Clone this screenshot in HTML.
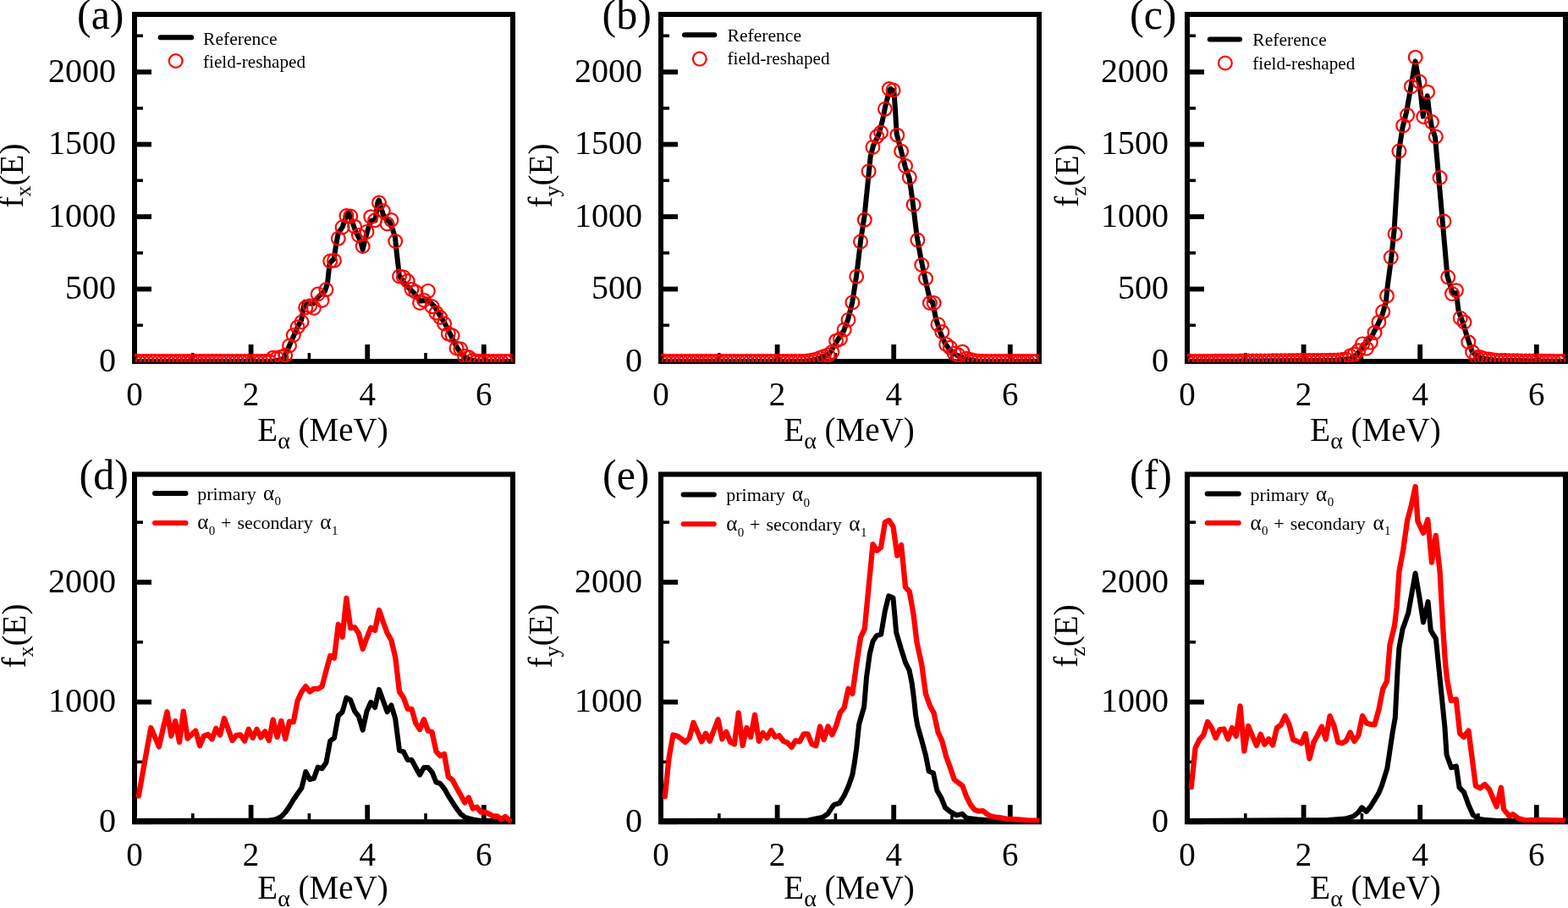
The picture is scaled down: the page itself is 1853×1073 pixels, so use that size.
<!DOCTYPE html><html><head><meta charset="utf-8"><title>Figure</title><style>html,body{margin:0;padding:0;background:#fff;}svg{display:block;}text{font-family:'Liberation Serif', 'Times New Roman', serif;fill:#000;}</style></head><body>
<svg width="1853" height="1073" viewBox="0 0 1853 1073">
<rect width="1853" height="1073" fill="#fff"/>
<clipPath id="clip00"><rect x="159" y="17.0" width="447" height="411.1"/></clipPath>
<rect x="159" y="17.0" width="447" height="410.1" fill="none" stroke="#000" stroke-width="6"/>
<line x1="159" y1="427.1" x2="179" y2="427.1" stroke="#000" stroke-width="5.8"/>
<text x="137" y="438.9" font-size="40" text-anchor="end">0</text>
<line x1="159" y1="341.6" x2="179" y2="341.6" stroke="#000" stroke-width="5.8"/>
<text x="137" y="353.4" font-size="40" text-anchor="end">500</text>
<line x1="159" y1="256.1" x2="179" y2="256.1" stroke="#000" stroke-width="5.8"/>
<text x="137" y="267.9" font-size="40" text-anchor="end">1000</text>
<line x1="159" y1="170.6" x2="179" y2="170.6" stroke="#000" stroke-width="5.8"/>
<text x="137" y="182.4" font-size="40" text-anchor="end">1500</text>
<line x1="159" y1="85.1" x2="179" y2="85.1" stroke="#000" stroke-width="5.8"/>
<text x="137" y="96.9" font-size="40" text-anchor="end">2000</text>
<line x1="159" y1="384.4" x2="169" y2="384.4" stroke="#000" stroke-width="3.6"/>
<line x1="159" y1="298.9" x2="169" y2="298.9" stroke="#000" stroke-width="3.6"/>
<line x1="159" y1="213.3" x2="169" y2="213.3" stroke="#000" stroke-width="3.6"/>
<line x1="159" y1="127.9" x2="169" y2="127.9" stroke="#000" stroke-width="3.6"/>
<line x1="159" y1="42.3" x2="169" y2="42.3" stroke="#000" stroke-width="3.6"/>
<text x="159.0" y="479.1" font-size="39" text-anchor="middle">0</text>
<line x1="296.6" y1="427.1" x2="296.6" y2="407.1" stroke="#000" stroke-width="5.8"/>
<text x="296.6" y="479.1" font-size="39" text-anchor="middle">2</text>
<line x1="434.2" y1="427.1" x2="434.2" y2="407.1" stroke="#000" stroke-width="5.8"/>
<text x="434.2" y="479.1" font-size="39" text-anchor="middle">4</text>
<line x1="571.8" y1="427.1" x2="571.8" y2="407.1" stroke="#000" stroke-width="5.8"/>
<text x="571.8" y="479.1" font-size="39" text-anchor="middle">6</text>
<line x1="227.8" y1="427.1" x2="227.8" y2="417.1" stroke="#000" stroke-width="3.6"/>
<line x1="365.4" y1="427.1" x2="365.4" y2="417.1" stroke="#000" stroke-width="3.6"/>
<line x1="503.0" y1="427.1" x2="503.0" y2="417.1" stroke="#000" stroke-width="3.6"/>
<g clip-path="url(#clip00)"><polyline points="159.0,427.1 318.0,427.0 325.0,426.5 331.0,425.5 335.2,423.5 340.8,411.0 345.4,400.8 351.9,385.9 356.2,378.0 358.0,368.0 360.0,357.0 364.0,358.0 370.0,359.0 375.0,352.0 380.0,347.0 384.0,344.0 387.0,335.0 389.6,310.7 394.7,306.1 397.0,290.2 399.8,275.3 404.5,268.8 409.0,256.0 411.9,252.0 415.7,260.4 420.3,273.5 425.9,284.6 428.7,294.9 431.5,282.8 435.2,269.7 439.0,260.4 443.6,260.4 446.4,239.0 447.8,236.5 451.1,248.3 454.0,256.7 457.7,260.4 460.5,262.3 464.2,271.6 467.0,280.9 468.9,299.6 470.7,315.0 471.8,325.7 477.1,333.2 483.6,340.7 490.0,347.2 496.4,355.7 502.0,355.0 507.0,356.0 513.6,362.2 520.0,372.9 526.5,383.6 532.9,396.5 539.3,409.3 544.7,417.9 551.1,423.3 556.5,425.4 565.0,427.0 606.0,427.1" fill="none" stroke="#000" stroke-width="6" stroke-linejoin="round" stroke-linecap="round"/><g fill="none" stroke="#ff0000" stroke-width="2.2"><circle cx="159.0" cy="427.1" r="7.9"/><circle cx="163.8" cy="427.1" r="7.9"/><circle cx="168.6" cy="427.1" r="7.9"/><circle cx="173.4" cy="427.1" r="7.9"/><circle cx="178.3" cy="427.1" r="7.9"/><circle cx="183.1" cy="427.1" r="7.9"/><circle cx="187.9" cy="427.1" r="7.9"/><circle cx="192.7" cy="427.1" r="7.9"/><circle cx="197.5" cy="427.1" r="7.9"/><circle cx="202.3" cy="427.1" r="7.9"/><circle cx="207.2" cy="427.1" r="7.9"/><circle cx="212.0" cy="427.1" r="7.9"/><circle cx="216.8" cy="427.1" r="7.9"/><circle cx="221.6" cy="427.1" r="7.9"/><circle cx="226.4" cy="427.1" r="7.9"/><circle cx="231.2" cy="427.1" r="7.9"/><circle cx="236.1" cy="427.1" r="7.9"/><circle cx="240.9" cy="427.0" r="7.9"/><circle cx="245.7" cy="427.0" r="7.9"/><circle cx="250.5" cy="427.0" r="7.9"/><circle cx="255.3" cy="427.0" r="7.9"/><circle cx="260.1" cy="427.0" r="7.9"/><circle cx="265.0" cy="427.0" r="7.9"/><circle cx="269.8" cy="427.0" r="7.9"/><circle cx="274.6" cy="427.0" r="7.9"/><circle cx="279.4" cy="427.0" r="7.9"/><circle cx="284.2" cy="427.0" r="7.9"/><circle cx="289.0" cy="427.0" r="7.9"/><circle cx="293.8" cy="427.0" r="7.9"/><circle cx="298.7" cy="427.0" r="7.9"/><circle cx="303.5" cy="427.0" r="7.9"/><circle cx="308.3" cy="427.0" r="7.9"/><circle cx="313.1" cy="427.0" r="7.9"/><circle cx="317.9" cy="427.0" r="7.9"/><circle cx="322.7" cy="422.7" r="7.9"/><circle cx="327.6" cy="423.0" r="7.9"/><circle cx="332.4" cy="421.7" r="7.9"/><circle cx="337.2" cy="419.8" r="7.9"/><circle cx="342.0" cy="408.5" r="7.9"/><circle cx="346.8" cy="396.0" r="7.9"/><circle cx="351.6" cy="386.5" r="7.9"/><circle cx="356.5" cy="380.5" r="7.9"/><circle cx="361.3" cy="363.4" r="7.9"/><circle cx="366.1" cy="361.5" r="7.9"/><circle cx="370.9" cy="364.0" r="7.9"/><circle cx="375.7" cy="347.5" r="7.9"/><circle cx="380.5" cy="355.0" r="7.9"/><circle cx="385.4" cy="342.3" r="7.9"/><circle cx="390.2" cy="308.6" r="7.9"/><circle cx="395.0" cy="307.8" r="7.9"/><circle cx="399.8" cy="281.8" r="7.9"/><circle cx="404.6" cy="268.5" r="7.9"/><circle cx="409.4" cy="255.0" r="7.9"/><circle cx="414.2" cy="255.5" r="7.9"/><circle cx="419.1" cy="267.7" r="7.9"/><circle cx="423.9" cy="278.0" r="7.9"/><circle cx="428.7" cy="291.0" r="7.9"/><circle cx="433.5" cy="273.9" r="7.9"/><circle cx="438.3" cy="256.2" r="7.9"/><circle cx="443.1" cy="260.3" r="7.9"/><circle cx="448.0" cy="239.5" r="7.9"/><circle cx="452.8" cy="249.3" r="7.9"/><circle cx="457.6" cy="264.5" r="7.9"/><circle cx="462.4" cy="260.0" r="7.9"/><circle cx="467.2" cy="285.0" r="7.9"/><circle cx="472.0" cy="326.5" r="7.9"/><circle cx="476.9" cy="327.5" r="7.9"/><circle cx="481.7" cy="332.0" r="7.9"/><circle cx="486.5" cy="342.0" r="7.9"/><circle cx="491.3" cy="345.0" r="7.9"/><circle cx="496.1" cy="357.9" r="7.9"/><circle cx="500.9" cy="354.7" r="7.9"/><circle cx="505.8" cy="343.9" r="7.9"/><circle cx="510.6" cy="362.2" r="7.9"/><circle cx="515.4" cy="369.7" r="7.9"/><circle cx="520.2" cy="375.0" r="7.9"/><circle cx="525.0" cy="382.5" r="7.9"/><circle cx="529.8" cy="394.3" r="7.9"/><circle cx="534.6" cy="396.5" r="7.9"/><circle cx="539.5" cy="411.5" r="7.9"/><circle cx="544.3" cy="412.5" r="7.9"/><circle cx="549.1" cy="421.1" r="7.9"/><circle cx="553.9" cy="422.2" r="7.9"/><circle cx="558.7" cy="425.8" r="7.9"/><circle cx="563.5" cy="426.7" r="7.9"/><circle cx="568.4" cy="427.0" r="7.9"/><circle cx="573.2" cy="427.0" r="7.9"/><circle cx="578.0" cy="427.0" r="7.9"/><circle cx="582.8" cy="427.0" r="7.9"/><circle cx="587.6" cy="427.1" r="7.9"/><circle cx="592.4" cy="427.1" r="7.9"/><circle cx="597.3" cy="427.1" r="7.9"/><circle cx="602.1" cy="427.1" r="7.9"/></g></g>
<text x="381.5" y="520.8" font-size="39" text-anchor="middle">E<tspan font-size="28" dy="9">&#945;</tspan><tspan dy="-9"> (MeV)</tspan></text>
<text transform="translate(27,207.5) rotate(-90)" font-size="39" text-anchor="middle">f<tspan font-size="26" dy="9">x</tspan><tspan dy="-9">(E)</tspan></text>
<text x="91" y="34.0" font-size="50">(a)</text>
<clipPath id="clip01"><rect x="781" y="17.0" width="447" height="411.1"/></clipPath>
<rect x="781" y="17.0" width="447" height="410.1" fill="none" stroke="#000" stroke-width="6"/>
<line x1="781" y1="427.1" x2="801" y2="427.1" stroke="#000" stroke-width="5.8"/>
<text x="759" y="438.9" font-size="40" text-anchor="end">0</text>
<line x1="781" y1="341.6" x2="801" y2="341.6" stroke="#000" stroke-width="5.8"/>
<text x="759" y="353.4" font-size="40" text-anchor="end">500</text>
<line x1="781" y1="256.1" x2="801" y2="256.1" stroke="#000" stroke-width="5.8"/>
<text x="759" y="267.9" font-size="40" text-anchor="end">1000</text>
<line x1="781" y1="170.6" x2="801" y2="170.6" stroke="#000" stroke-width="5.8"/>
<text x="759" y="182.4" font-size="40" text-anchor="end">1500</text>
<line x1="781" y1="85.1" x2="801" y2="85.1" stroke="#000" stroke-width="5.8"/>
<text x="759" y="96.9" font-size="40" text-anchor="end">2000</text>
<line x1="781" y1="384.4" x2="791" y2="384.4" stroke="#000" stroke-width="3.6"/>
<line x1="781" y1="298.9" x2="791" y2="298.9" stroke="#000" stroke-width="3.6"/>
<line x1="781" y1="213.3" x2="791" y2="213.3" stroke="#000" stroke-width="3.6"/>
<line x1="781" y1="127.9" x2="791" y2="127.9" stroke="#000" stroke-width="3.6"/>
<line x1="781" y1="42.3" x2="791" y2="42.3" stroke="#000" stroke-width="3.6"/>
<text x="781.0" y="479.1" font-size="39" text-anchor="middle">0</text>
<line x1="918.6" y1="427.1" x2="918.6" y2="407.1" stroke="#000" stroke-width="5.8"/>
<text x="918.6" y="479.1" font-size="39" text-anchor="middle">2</text>
<line x1="1056.2" y1="427.1" x2="1056.2" y2="407.1" stroke="#000" stroke-width="5.8"/>
<text x="1056.2" y="479.1" font-size="39" text-anchor="middle">4</text>
<line x1="1193.8" y1="427.1" x2="1193.8" y2="407.1" stroke="#000" stroke-width="5.8"/>
<text x="1193.8" y="479.1" font-size="39" text-anchor="middle">6</text>
<line x1="849.8" y1="427.1" x2="849.8" y2="417.1" stroke="#000" stroke-width="3.6"/>
<line x1="987.4" y1="427.1" x2="987.4" y2="417.1" stroke="#000" stroke-width="3.6"/>
<line x1="1125.0" y1="427.1" x2="1125.0" y2="417.1" stroke="#000" stroke-width="3.6"/>
<g clip-path="url(#clip01)"><polyline points="781.0,427.1 950.0,427.0 958.0,426.0 965.0,424.5 972.0,422.0 980.3,417.8 985.4,409.4 990.4,401.0 997.1,391.0 1002.1,377.5 1007.2,357.4 1012.2,325.5 1017.2,283.6 1021.6,255.0 1025.5,216.7 1028.7,185.0 1031.9,172.4 1038.2,159.7 1042.9,142.3 1046.1,126.4 1050.9,107.4 1052.4,105.0 1056.4,107.4 1058.0,129.6 1059.6,158.1 1065.1,178.7 1069.9,197.7 1074.6,210.4 1077.8,232.5 1079.4,245.0 1083.5,278.7 1088.4,306.1 1094.2,333.5 1099.1,355.0 1102.1,357.0 1106.0,376.6 1110.9,392.2 1116.8,405.9 1122.6,413.7 1130.5,419.6 1140.0,423.0 1150.0,426.0 1160.0,427.0 1228.0,427.1" fill="none" stroke="#000" stroke-width="6" stroke-linejoin="round" stroke-linecap="round"/><g fill="none" stroke="#ff0000" stroke-width="2.2"><circle cx="781.0" cy="427.1" r="7.9"/><circle cx="785.8" cy="427.1" r="7.9"/><circle cx="790.6" cy="427.1" r="7.9"/><circle cx="795.4" cy="427.1" r="7.9"/><circle cx="800.3" cy="427.1" r="7.9"/><circle cx="805.1" cy="427.1" r="7.9"/><circle cx="809.9" cy="427.1" r="7.9"/><circle cx="814.7" cy="427.1" r="7.9"/><circle cx="819.5" cy="427.1" r="7.9"/><circle cx="824.3" cy="427.1" r="7.9"/><circle cx="829.2" cy="427.1" r="7.9"/><circle cx="834.0" cy="427.1" r="7.9"/><circle cx="838.8" cy="427.1" r="7.9"/><circle cx="843.6" cy="427.1" r="7.9"/><circle cx="848.4" cy="427.1" r="7.9"/><circle cx="853.2" cy="427.1" r="7.9"/><circle cx="858.1" cy="427.1" r="7.9"/><circle cx="862.9" cy="427.1" r="7.9"/><circle cx="867.7" cy="427.0" r="7.9"/><circle cx="872.5" cy="427.0" r="7.9"/><circle cx="877.3" cy="427.0" r="7.9"/><circle cx="882.1" cy="427.0" r="7.9"/><circle cx="887.0" cy="427.0" r="7.9"/><circle cx="891.8" cy="427.0" r="7.9"/><circle cx="896.6" cy="427.0" r="7.9"/><circle cx="901.4" cy="427.0" r="7.9"/><circle cx="906.2" cy="427.0" r="7.9"/><circle cx="911.0" cy="427.0" r="7.9"/><circle cx="915.8" cy="427.0" r="7.9"/><circle cx="920.7" cy="427.0" r="7.9"/><circle cx="925.5" cy="427.0" r="7.9"/><circle cx="930.3" cy="427.0" r="7.9"/><circle cx="935.1" cy="427.0" r="7.9"/><circle cx="939.9" cy="427.0" r="7.9"/><circle cx="944.7" cy="427.0" r="7.9"/><circle cx="949.6" cy="427.0" r="7.9"/><circle cx="954.4" cy="426.5" r="7.9"/><circle cx="959.2" cy="425.7" r="7.9"/><circle cx="964.0" cy="424.7" r="7.9"/><circle cx="968.8" cy="423.1" r="7.9"/><circle cx="973.6" cy="421.2" r="7.9"/><circle cx="978.5" cy="419.5" r="7.9"/><circle cx="983.3" cy="416.1" r="7.9"/><circle cx="988.1" cy="402.7" r="7.9"/><circle cx="992.9" cy="400.5" r="7.9"/><circle cx="997.7" cy="389.6" r="7.9"/><circle cx="1002.5" cy="377.9" r="7.9"/><circle cx="1007.4" cy="357.4" r="7.9"/><circle cx="1012.2" cy="326.8" r="7.9"/><circle cx="1017.0" cy="285.6" r="7.9"/><circle cx="1021.8" cy="259.8" r="7.9"/><circle cx="1026.6" cy="202.4" r="7.9"/><circle cx="1031.4" cy="173.9" r="7.9"/><circle cx="1036.2" cy="161.3" r="7.9"/><circle cx="1041.1" cy="156.5" r="7.9"/><circle cx="1045.9" cy="128.8" r="7.9"/><circle cx="1050.7" cy="105.0" r="7.9"/><circle cx="1055.5" cy="106.6" r="7.9"/><circle cx="1060.3" cy="159.7" r="7.9"/><circle cx="1065.1" cy="178.7" r="7.9"/><circle cx="1070.0" cy="196.1" r="7.9"/><circle cx="1074.8" cy="209.6" r="7.9"/><circle cx="1079.6" cy="242.0" r="7.9"/><circle cx="1084.4" cy="283.6" r="7.9"/><circle cx="1089.2" cy="313.0" r="7.9"/><circle cx="1094.0" cy="329.2" r="7.9"/><circle cx="1098.9" cy="358.0" r="7.9"/><circle cx="1103.7" cy="358.0" r="7.9"/><circle cx="1108.5" cy="383.4" r="7.9"/><circle cx="1113.3" cy="392.2" r="7.9"/><circle cx="1118.1" cy="406.9" r="7.9"/><circle cx="1122.9" cy="410.8" r="7.9"/><circle cx="1127.8" cy="417.7" r="7.9"/><circle cx="1132.6" cy="419.6" r="7.9"/><circle cx="1137.4" cy="415.7" r="7.9"/><circle cx="1142.2" cy="423.7" r="7.9"/><circle cx="1147.0" cy="425.1" r="7.9"/><circle cx="1151.8" cy="426.2" r="7.9"/><circle cx="1156.6" cy="426.7" r="7.9"/><circle cx="1161.5" cy="427.0" r="7.9"/><circle cx="1166.3" cy="427.0" r="7.9"/><circle cx="1171.1" cy="427.0" r="7.9"/><circle cx="1175.9" cy="427.0" r="7.9"/><circle cx="1180.7" cy="427.0" r="7.9"/><circle cx="1185.5" cy="427.0" r="7.9"/><circle cx="1190.4" cy="427.0" r="7.9"/><circle cx="1195.2" cy="427.1" r="7.9"/><circle cx="1200.0" cy="427.1" r="7.9"/><circle cx="1204.8" cy="427.1" r="7.9"/><circle cx="1209.6" cy="427.1" r="7.9"/><circle cx="1214.4" cy="427.1" r="7.9"/><circle cx="1219.3" cy="427.1" r="7.9"/><circle cx="1224.1" cy="427.1" r="7.9"/></g></g>
<text x="1003.5" y="520.8" font-size="39" text-anchor="middle">E<tspan font-size="28" dy="9">&#945;</tspan><tspan dy="-9"> (MeV)</tspan></text>
<text transform="translate(652,207.5) rotate(-90)" font-size="39" text-anchor="middle">f<tspan font-size="26" dy="9">y</tspan><tspan dy="-9">(E)</tspan></text>
<text x="711.5" y="34.0" font-size="50">(b)</text>
<clipPath id="clip02"><rect x="1403" y="17.0" width="447" height="411.1"/></clipPath>
<rect x="1403" y="17.0" width="447" height="410.1" fill="none" stroke="#000" stroke-width="6"/>
<line x1="1403" y1="427.1" x2="1423" y2="427.1" stroke="#000" stroke-width="5.8"/>
<text x="1381" y="438.9" font-size="40" text-anchor="end">0</text>
<line x1="1403" y1="341.6" x2="1423" y2="341.6" stroke="#000" stroke-width="5.8"/>
<text x="1381" y="353.4" font-size="40" text-anchor="end">500</text>
<line x1="1403" y1="256.1" x2="1423" y2="256.1" stroke="#000" stroke-width="5.8"/>
<text x="1381" y="267.9" font-size="40" text-anchor="end">1000</text>
<line x1="1403" y1="170.6" x2="1423" y2="170.6" stroke="#000" stroke-width="5.8"/>
<text x="1381" y="182.4" font-size="40" text-anchor="end">1500</text>
<line x1="1403" y1="85.1" x2="1423" y2="85.1" stroke="#000" stroke-width="5.8"/>
<text x="1381" y="96.9" font-size="40" text-anchor="end">2000</text>
<line x1="1403" y1="384.4" x2="1413" y2="384.4" stroke="#000" stroke-width="3.6"/>
<line x1="1403" y1="298.9" x2="1413" y2="298.9" stroke="#000" stroke-width="3.6"/>
<line x1="1403" y1="213.3" x2="1413" y2="213.3" stroke="#000" stroke-width="3.6"/>
<line x1="1403" y1="127.9" x2="1413" y2="127.9" stroke="#000" stroke-width="3.6"/>
<line x1="1403" y1="42.3" x2="1413" y2="42.3" stroke="#000" stroke-width="3.6"/>
<text x="1403.0" y="479.1" font-size="39" text-anchor="middle">0</text>
<line x1="1540.6" y1="427.1" x2="1540.6" y2="407.1" stroke="#000" stroke-width="5.8"/>
<text x="1540.6" y="479.1" font-size="39" text-anchor="middle">2</text>
<line x1="1678.2" y1="427.1" x2="1678.2" y2="407.1" stroke="#000" stroke-width="5.8"/>
<text x="1678.2" y="479.1" font-size="39" text-anchor="middle">4</text>
<line x1="1815.8" y1="427.1" x2="1815.8" y2="407.1" stroke="#000" stroke-width="5.8"/>
<text x="1815.8" y="479.1" font-size="39" text-anchor="middle">6</text>
<line x1="1471.8" y1="427.1" x2="1471.8" y2="417.1" stroke="#000" stroke-width="3.6"/>
<line x1="1609.4" y1="427.1" x2="1609.4" y2="417.1" stroke="#000" stroke-width="3.6"/>
<line x1="1747.0" y1="427.1" x2="1747.0" y2="417.1" stroke="#000" stroke-width="3.6"/>
<g clip-path="url(#clip02)"><polyline points="1403.0,427.1 1577.7,425.8 1595.4,424.1 1603.5,419.1 1612.2,407.6 1620.9,397.7 1627.8,384.4 1633.6,371.7 1637.9,356.8 1639.6,339.1 1644.1,305.5 1647.6,272.4 1653.3,177.5 1657.5,150.7 1662.2,132.0 1667.8,100.3 1672.5,72.4 1675.3,87.3 1679.0,111.5 1681.8,137.6 1683.6,124.6 1686.8,113.4 1689.2,133.9 1692.0,150.7 1696.0,162.0 1710.4,326.2 1716.5,346.2 1721.0,346.2 1723.6,367.4 1728.9,381.6 1734.2,399.3 1739.6,415.2 1744.9,420.8 1755.0,424.0 1770.0,426.0 1850.0,427.1" fill="none" stroke="#000" stroke-width="6" stroke-linejoin="round" stroke-linecap="round"/><g fill="none" stroke="#ff0000" stroke-width="2.2"><circle cx="1403.0" cy="427.1" r="7.9"/><circle cx="1407.8" cy="427.1" r="7.9"/><circle cx="1412.6" cy="427.0" r="7.9"/><circle cx="1417.4" cy="427.0" r="7.9"/><circle cx="1422.3" cy="427.0" r="7.9"/><circle cx="1427.1" cy="426.9" r="7.9"/><circle cx="1431.9" cy="426.9" r="7.9"/><circle cx="1436.7" cy="426.8" r="7.9"/><circle cx="1441.5" cy="426.8" r="7.9"/><circle cx="1446.3" cy="426.8" r="7.9"/><circle cx="1451.2" cy="426.7" r="7.9"/><circle cx="1456.0" cy="426.7" r="7.9"/><circle cx="1460.8" cy="426.7" r="7.9"/><circle cx="1465.6" cy="426.6" r="7.9"/><circle cx="1470.4" cy="426.6" r="7.9"/><circle cx="1475.2" cy="426.6" r="7.9"/><circle cx="1480.1" cy="426.5" r="7.9"/><circle cx="1484.9" cy="426.5" r="7.9"/><circle cx="1489.7" cy="426.5" r="7.9"/><circle cx="1494.5" cy="426.4" r="7.9"/><circle cx="1499.3" cy="426.4" r="7.9"/><circle cx="1504.1" cy="426.3" r="7.9"/><circle cx="1509.0" cy="426.3" r="7.9"/><circle cx="1513.8" cy="426.3" r="7.9"/><circle cx="1518.6" cy="426.2" r="7.9"/><circle cx="1523.4" cy="426.2" r="7.9"/><circle cx="1528.2" cy="426.2" r="7.9"/><circle cx="1533.0" cy="426.1" r="7.9"/><circle cx="1537.8" cy="426.1" r="7.9"/><circle cx="1542.7" cy="426.1" r="7.9"/><circle cx="1547.5" cy="426.0" r="7.9"/><circle cx="1552.3" cy="426.0" r="7.9"/><circle cx="1557.1" cy="426.0" r="7.9"/><circle cx="1561.9" cy="425.9" r="7.9"/><circle cx="1566.7" cy="425.9" r="7.9"/><circle cx="1571.6" cy="425.8" r="7.9"/><circle cx="1576.4" cy="425.8" r="7.9"/><circle cx="1581.2" cy="425.5" r="7.9"/><circle cx="1586.0" cy="425.0" r="7.9"/><circle cx="1590.8" cy="424.5" r="7.9"/><circle cx="1595.6" cy="420.5" r="7.9"/><circle cx="1600.5" cy="418.8" r="7.9"/><circle cx="1605.3" cy="414.3" r="7.9"/><circle cx="1610.1" cy="406.4" r="7.9"/><circle cx="1614.9" cy="411.7" r="7.9"/><circle cx="1619.7" cy="404.6" r="7.9"/><circle cx="1624.5" cy="393.1" r="7.9"/><circle cx="1629.4" cy="380.7" r="7.9"/><circle cx="1634.2" cy="368.3" r="7.9"/><circle cx="1639.0" cy="349.7" r="7.9"/><circle cx="1643.8" cy="304.1" r="7.9"/><circle cx="1648.6" cy="276.3" r="7.9"/><circle cx="1653.4" cy="178.6" r="7.9"/><circle cx="1658.2" cy="148.4" r="7.9"/><circle cx="1663.1" cy="136.1" r="7.9"/><circle cx="1667.9" cy="102.2" r="7.9"/><circle cx="1672.7" cy="67.7" r="7.9"/><circle cx="1677.5" cy="96.6" r="7.9"/><circle cx="1682.3" cy="138.0" r="7.9"/><circle cx="1687.1" cy="108.7" r="7.9"/><circle cx="1692.0" cy="144.1" r="7.9"/><circle cx="1696.8" cy="161.5" r="7.9"/><circle cx="1701.6" cy="210.0" r="7.9"/><circle cx="1706.4" cy="261.6" r="7.9"/><circle cx="1711.2" cy="327.6" r="7.9"/><circle cx="1716.0" cy="347.1" r="7.9"/><circle cx="1720.9" cy="343.2" r="7.9"/><circle cx="1725.7" cy="375.9" r="7.9"/><circle cx="1730.5" cy="380.7" r="7.9"/><circle cx="1735.3" cy="404.2" r="7.9"/><circle cx="1740.1" cy="416.1" r="7.9"/><circle cx="1744.9" cy="422.3" r="7.9"/><circle cx="1749.8" cy="422.3" r="7.9"/><circle cx="1754.6" cy="423.9" r="7.9"/><circle cx="1759.4" cy="424.6" r="7.9"/><circle cx="1764.2" cy="425.2" r="7.9"/><circle cx="1769.0" cy="425.9" r="7.9"/><circle cx="1773.8" cy="426.1" r="7.9"/><circle cx="1778.6" cy="426.1" r="7.9"/><circle cx="1783.5" cy="426.2" r="7.9"/><circle cx="1788.3" cy="426.3" r="7.9"/><circle cx="1793.1" cy="426.3" r="7.9"/><circle cx="1797.9" cy="426.4" r="7.9"/><circle cx="1802.7" cy="426.5" r="7.9"/><circle cx="1807.5" cy="426.5" r="7.9"/><circle cx="1812.4" cy="426.6" r="7.9"/><circle cx="1817.2" cy="426.6" r="7.9"/><circle cx="1822.0" cy="426.7" r="7.9"/><circle cx="1826.8" cy="426.8" r="7.9"/><circle cx="1831.6" cy="426.8" r="7.9"/><circle cx="1836.4" cy="426.9" r="7.9"/><circle cx="1841.3" cy="427.0" r="7.9"/><circle cx="1846.1" cy="427.0" r="7.9"/></g></g>
<text x="1625.5" y="520.8" font-size="39" text-anchor="middle">E<tspan font-size="28" dy="9">&#945;</tspan><tspan dy="-9"> (MeV)</tspan></text>
<text transform="translate(1273.6,207.5) rotate(-90)" font-size="39" text-anchor="middle">f<tspan font-size="26" dy="9">z</tspan><tspan dy="-9">(E)</tspan></text>
<text x="1335" y="34.0" font-size="50">(c)</text>
<clipPath id="clip10"><rect x="159" y="560.5" width="447" height="411.70000000000005"/></clipPath>
<rect x="159" y="560.5" width="447" height="410.70000000000005" fill="none" stroke="#000" stroke-width="6"/>
<line x1="159" y1="971.2" x2="179" y2="971.2" stroke="#000" stroke-width="5.8"/>
<text x="137" y="983.0" font-size="40" text-anchor="end">0</text>
<line x1="159" y1="829.6" x2="179" y2="829.6" stroke="#000" stroke-width="5.8"/>
<text x="137" y="841.4" font-size="40" text-anchor="end">1000</text>
<line x1="159" y1="688.0" x2="179" y2="688.0" stroke="#000" stroke-width="5.8"/>
<text x="137" y="699.8" font-size="40" text-anchor="end">2000</text>
<line x1="159" y1="900.4" x2="169" y2="900.4" stroke="#000" stroke-width="3.6"/>
<line x1="159" y1="758.8" x2="169" y2="758.8" stroke="#000" stroke-width="3.6"/>
<line x1="159" y1="617.2" x2="169" y2="617.2" stroke="#000" stroke-width="3.6"/>
<text x="159.0" y="1023.2" font-size="39" text-anchor="middle">0</text>
<line x1="296.6" y1="971.2" x2="296.6" y2="951.2" stroke="#000" stroke-width="5.8"/>
<text x="296.6" y="1023.2" font-size="39" text-anchor="middle">2</text>
<line x1="434.2" y1="971.2" x2="434.2" y2="951.2" stroke="#000" stroke-width="5.8"/>
<text x="434.2" y="1023.2" font-size="39" text-anchor="middle">4</text>
<line x1="571.8" y1="971.2" x2="571.8" y2="951.2" stroke="#000" stroke-width="5.8"/>
<text x="571.8" y="1023.2" font-size="39" text-anchor="middle">6</text>
<line x1="227.8" y1="971.2" x2="227.8" y2="961.2" stroke="#000" stroke-width="3.6"/>
<line x1="365.4" y1="971.2" x2="365.4" y2="961.2" stroke="#000" stroke-width="3.6"/>
<line x1="503.0" y1="971.2" x2="503.0" y2="961.2" stroke="#000" stroke-width="3.6"/>
<g clip-path="url(#clip10)"><polyline points="159.0,970.0 317.9,969.5 322.7,969.0 327.6,967.5 332.4,965.0 337.2,960.0 342.0,953.0 346.8,945.0 351.6,938.0 356.5,931.0 361.3,912.0 366.1,921.1 370.9,919.9 375.7,906.5 380.5,908.3 385.4,901.3 390.2,875.6 395.0,872.0 399.8,845.8 404.6,841.3 409.4,824.5 414.2,827.2 419.1,840.4 423.9,846.6 428.7,862.6 433.5,840.4 438.3,829.8 443.1,836.0 448.0,814.8 452.8,828.0 457.6,841.3 462.4,833.4 467.2,849.3 472.0,886.8 476.9,888.4 481.7,898.0 486.5,898.0 491.3,907.0 496.1,915.7 500.9,907.1 505.8,907.1 510.6,912.5 515.4,924.3 520.2,925.9 525.0,931.8 529.8,940.4 534.6,947.9 539.5,955.4 544.3,961.8 549.1,965.5 553.9,967.1 558.7,968.5 563.5,969.3 568.4,970.0 610.0,970.0" fill="none" stroke="#000" stroke-width="6.0" stroke-linejoin="round" stroke-linecap="round"/><polyline points="163.8,940.6 168.6,913.7 173.4,886.9 178.3,860.0 183.1,871.0 187.9,882.4 192.7,861.0 197.5,841.2 202.3,869.7 207.2,852.1 212.0,877.0 216.8,840.6 221.6,872.7 226.4,868.0 231.2,863.6 236.1,881.2 240.9,869.7 245.7,867.9 250.5,873.3 255.3,860.8 260.1,868.5 265.0,849.0 269.8,862.0 274.6,875.1 279.4,869.0 284.2,868.5 289.0,875.6 293.8,861.8 298.7,872.0 303.5,861.8 308.3,871.5 313.1,864.4 317.9,875.1 322.7,850.5 327.6,871.0 332.4,852.0 337.2,873.1 342.0,852.6 346.8,853.1 351.6,828.0 356.5,817.4 361.3,811.2 366.1,817.4 370.9,813.9 375.7,813.9 380.5,811.2 385.4,792.7 390.2,775.0 395.0,777.6 399.8,737.8 404.6,752.8 409.4,706.8 414.2,742.2 419.1,741.3 423.9,748.4 428.7,767.0 433.5,753.7 438.3,741.8 443.1,744.9 448.0,721.0 452.8,735.0 457.6,748.0 462.4,756.4 467.2,776.7 472.0,817.4 476.9,824.5 481.7,837.8 486.5,837.8 491.3,854.6 496.1,862.0 500.9,850.2 505.8,863.5 510.6,865.3 515.4,887.9 520.2,893.2 525.0,891.1 529.8,917.9 534.6,921.6 539.5,930.7 544.3,939.3 549.1,948.4 553.9,942.5 558.7,955.4 563.5,953.8 568.4,959.6 573.2,959.6 578.0,961.8 582.8,964.5 587.6,964.5 592.4,968.2 597.3,965.0 602.1,969.3" fill="none" stroke="#ff0000" stroke-width="6.3" stroke-linejoin="round" stroke-linecap="round"/></g>
<text x="381.5" y="1061.5" font-size="39" text-anchor="middle">E<tspan font-size="28" dy="9">&#945;</tspan><tspan dy="-9"> (MeV)</tspan></text>
<text transform="translate(29.8,751.5) rotate(-90)" font-size="39" text-anchor="middle">f<tspan font-size="26" dy="9">x</tspan><tspan dy="-9">(E)</tspan></text>
<text x="93.5" y="577.5" font-size="50">(d)</text>
<clipPath id="clip11"><rect x="781" y="560.5" width="447" height="411.70000000000005"/></clipPath>
<rect x="781" y="560.5" width="447" height="410.70000000000005" fill="none" stroke="#000" stroke-width="6"/>
<line x1="781" y1="971.2" x2="801" y2="971.2" stroke="#000" stroke-width="5.8"/>
<text x="759" y="983.0" font-size="40" text-anchor="end">0</text>
<line x1="781" y1="829.6" x2="801" y2="829.6" stroke="#000" stroke-width="5.8"/>
<text x="759" y="841.4" font-size="40" text-anchor="end">1000</text>
<line x1="781" y1="688.0" x2="801" y2="688.0" stroke="#000" stroke-width="5.8"/>
<text x="759" y="699.8" font-size="40" text-anchor="end">2000</text>
<line x1="781" y1="900.4" x2="791" y2="900.4" stroke="#000" stroke-width="3.6"/>
<line x1="781" y1="758.8" x2="791" y2="758.8" stroke="#000" stroke-width="3.6"/>
<line x1="781" y1="617.2" x2="791" y2="617.2" stroke="#000" stroke-width="3.6"/>
<text x="781.0" y="1023.2" font-size="39" text-anchor="middle">0</text>
<line x1="918.6" y1="971.2" x2="918.6" y2="951.2" stroke="#000" stroke-width="5.8"/>
<text x="918.6" y="1023.2" font-size="39" text-anchor="middle">2</text>
<line x1="1056.2" y1="971.2" x2="1056.2" y2="951.2" stroke="#000" stroke-width="5.8"/>
<text x="1056.2" y="1023.2" font-size="39" text-anchor="middle">4</text>
<line x1="1193.8" y1="971.2" x2="1193.8" y2="951.2" stroke="#000" stroke-width="5.8"/>
<text x="1193.8" y="1023.2" font-size="39" text-anchor="middle">6</text>
<line x1="849.8" y1="971.2" x2="849.8" y2="961.2" stroke="#000" stroke-width="3.6"/>
<line x1="987.4" y1="971.2" x2="987.4" y2="961.2" stroke="#000" stroke-width="3.6"/>
<line x1="1125.0" y1="971.2" x2="1125.0" y2="961.2" stroke="#000" stroke-width="3.6"/>
<g clip-path="url(#clip11)"><polyline points="781.0,970.0 955.0,969.5 959.4,968.5 964.3,967.5 969.1,966.5 973.6,965.0 978.5,961.5 983.3,954.0 985.8,950.9 992.0,949.1 997.7,940.0 1002.5,929.6 1007.4,915.4 1009.7,902.1 1012.2,884.4 1015.1,856.2 1021.1,835.4 1024.1,799.6 1027.8,772.8 1031.5,757.9 1036.0,751.2 1041.2,749.7 1045.8,722.2 1050.2,704.3 1055.5,706.6 1059.2,747.5 1064.9,766.8 1070.1,783.2 1074.6,792.2 1077.6,807.1 1079.8,823.5 1082.0,844.3 1084.3,857.7 1089.6,876.1 1093.9,892.2 1097.7,911.4 1103.0,913.6 1107.3,934.0 1112.2,942.5 1117.0,954.3 1122.9,959.1 1130.4,963.4 1137.3,961.8 1142.2,966.6 1155.0,968.3 1170.0,969.5 1232.0,970.0" fill="none" stroke="#000" stroke-width="6.0" stroke-linejoin="round" stroke-linecap="round"/><polyline points="785.8,941.2 790.6,895.2 795.4,868.5 800.3,869.7 805.1,873.0 809.9,877.0 814.7,872.1 819.5,853.9 824.3,865.0 829.2,876.4 834.0,866.7 838.8,875.8 843.6,863.0 848.6,850.3 853.4,873.3 858.3,864.8 863.1,877.0 867.9,879.4 872.7,842.4 877.6,881.0 882.4,860.0 887.2,870.9 892.0,844.8 896.8,875.8 901.6,866.1 906.4,872.1 911.3,863.0 916.1,870.9 920.9,869.1 925.7,875.8 930.5,877.6 935.4,883.0 940.2,875.2 945.0,876.4 949.8,867.3 954.6,867.3 959.4,879.4 964.3,881.3 969.1,858.5 973.6,874.1 978.5,858.5 983.3,868.2 988.1,857.7 992.9,842.1 997.7,836.1 1002.5,813.8 1007.4,819.7 1012.2,784.7 1017.0,753.4 1021.8,743.1 1026.6,693.0 1031.5,643.2 1036.2,650.7 1041.0,646.9 1045.9,617.1 1050.7,614.9 1055.5,622.4 1060.3,656.6 1065.1,644.0 1070.0,693.9 1074.8,699.1 1079.6,726.7 1083.5,759.0 1089.2,785.0 1094.0,820.0 1098.9,834.0 1103.7,842.8 1108.5,865.2 1113.3,875.6 1118.1,894.0 1122.9,907.2 1127.7,921.1 1132.6,925.0 1137.4,928.6 1142.2,941.5 1147.0,951.0 1151.8,957.0 1156.6,958.6 1161.5,958.1 1166.3,962.0 1171.0,964.5 1176.0,965.6 1181.0,966.0 1189.3,967.7 1203.3,968.3 1214.0,969.3 1232.0,969.9" fill="none" stroke="#ff0000" stroke-width="6.3" stroke-linejoin="round" stroke-linecap="round"/></g>
<text x="1003.5" y="1061.5" font-size="39" text-anchor="middle">E<tspan font-size="28" dy="9">&#945;</tspan><tspan dy="-9"> (MeV)</tspan></text>
<text transform="translate(651.5,751.5) rotate(-90)" font-size="39" text-anchor="middle">f<tspan font-size="26" dy="9">y</tspan><tspan dy="-9">(E)</tspan></text>
<text x="712" y="577.5" font-size="50">(e)</text>
<clipPath id="clip12"><rect x="1403" y="560.5" width="447" height="411.70000000000005"/></clipPath>
<rect x="1403" y="560.5" width="447" height="410.70000000000005" fill="none" stroke="#000" stroke-width="6"/>
<line x1="1403" y1="971.2" x2="1423" y2="971.2" stroke="#000" stroke-width="5.8"/>
<text x="1381" y="983.0" font-size="40" text-anchor="end">0</text>
<line x1="1403" y1="829.6" x2="1423" y2="829.6" stroke="#000" stroke-width="5.8"/>
<text x="1381" y="841.4" font-size="40" text-anchor="end">1000</text>
<line x1="1403" y1="688.0" x2="1423" y2="688.0" stroke="#000" stroke-width="5.8"/>
<text x="1381" y="699.8" font-size="40" text-anchor="end">2000</text>
<line x1="1403" y1="900.4" x2="1413" y2="900.4" stroke="#000" stroke-width="3.6"/>
<line x1="1403" y1="758.8" x2="1413" y2="758.8" stroke="#000" stroke-width="3.6"/>
<line x1="1403" y1="617.2" x2="1413" y2="617.2" stroke="#000" stroke-width="3.6"/>
<text x="1403.0" y="1023.2" font-size="39" text-anchor="middle">0</text>
<line x1="1540.6" y1="971.2" x2="1540.6" y2="951.2" stroke="#000" stroke-width="5.8"/>
<text x="1540.6" y="1023.2" font-size="39" text-anchor="middle">2</text>
<line x1="1678.2" y1="971.2" x2="1678.2" y2="951.2" stroke="#000" stroke-width="5.8"/>
<text x="1678.2" y="1023.2" font-size="39" text-anchor="middle">4</text>
<line x1="1815.8" y1="971.2" x2="1815.8" y2="951.2" stroke="#000" stroke-width="5.8"/>
<text x="1815.8" y="1023.2" font-size="39" text-anchor="middle">6</text>
<line x1="1471.8" y1="971.2" x2="1471.8" y2="961.2" stroke="#000" stroke-width="3.6"/>
<line x1="1609.4" y1="971.2" x2="1609.4" y2="961.2" stroke="#000" stroke-width="3.6"/>
<line x1="1747.0" y1="971.2" x2="1747.0" y2="961.2" stroke="#000" stroke-width="3.6"/>
<g clip-path="url(#clip12)"><polyline points="1403.0,970.0 1570.7,969.0 1590.0,967.5 1599.7,964.5 1605.3,960.0 1609.3,954.3 1614.7,959.1 1619.7,953.0 1624.3,945.7 1629.4,937.0 1632.9,928.6 1639.3,908.2 1642.5,886.8 1645.7,865.4 1648.8,847.9 1651.6,791.9 1653.4,765.8 1657.7,742.8 1659.0,739.7 1664.3,724.2 1672.6,677.5 1677.5,706.0 1682.0,735.4 1687.6,711.1 1690.8,745.0 1696.9,754.9 1699.9,784.7 1702.9,814.5 1707.4,859.2 1709.6,892.1 1715.0,907.1 1720.9,905.5 1724.6,930.7 1730.0,936.1 1735.4,951.1 1740.7,962.9 1747.1,967.7 1753.6,968.8 1770.0,970.0 1855.0,970.0" fill="none" stroke="#000" stroke-width="6.0" stroke-linejoin="round" stroke-linecap="round"/><polyline points="1407.8,930.1 1412.6,883.9 1417.4,874.1 1422.3,868.5 1427.1,853.1 1431.9,860.1 1436.7,872.0 1441.5,862.2 1446.3,861.5 1451.2,873.4 1456.0,860.1 1460.8,869.9 1465.6,834.3 1470.4,887.4 1475.2,858.0 1480.1,869.9 1484.9,881.1 1489.7,867.8 1494.5,879.7 1499.3,873.4 1504.1,880.4 1509.0,860.1 1513.8,856.6 1518.6,846.2 1523.4,855.9 1528.2,874.1 1533.1,876.0 1537.9,878.3 1542.7,867.1 1547.5,896.5 1552.3,877.6 1557.2,868.5 1562.0,858.7 1566.7,873.4 1571.6,846.2 1576.4,857.3 1581.2,876.9 1586.0,878.3 1590.8,875.5 1595.6,865.6 1600.5,875.9 1605.3,869.0 1610.1,846.0 1614.9,854.4 1619.7,856.0 1624.5,856.3 1629.4,838.6 1634.2,814.3 1639.0,805.0 1642.5,762.0 1648.0,739.5 1650.6,717.3 1653.4,675.7 1658.2,650.0 1663.1,615.0 1667.9,597.0 1672.7,575.0 1675.4,616.0 1682.0,630.0 1687.3,614.0 1692.0,664.5 1696.8,632.8 1701.6,675.7 1705.1,740.0 1708.1,784.7 1710.3,804.1 1714.8,827.9 1720.8,826.4 1725.2,866.7 1729.8,871.0 1735.5,863.5 1743.9,928.6 1749.3,931.3 1754.6,927.0 1760.0,932.9 1768.6,953.2 1773.9,930.7 1777.1,956.4 1783.6,964.5 1787.9,962.3 1794.3,967.1 1801.8,969.3 1817.9,968.8 1855.0,969.8" fill="none" stroke="#ff0000" stroke-width="6.3" stroke-linejoin="round" stroke-linecap="round"/></g>
<text x="1625.5" y="1061.5" font-size="39" text-anchor="middle">E<tspan font-size="28" dy="9">&#945;</tspan><tspan dy="-9"> (MeV)</tspan></text>
<text transform="translate(1273.4,751.5) rotate(-90)" font-size="39" text-anchor="middle">f<tspan font-size="26" dy="9">z</tspan><tspan dy="-9">(E)</tspan></text>
<text x="1335" y="577.5" font-size="50">(f)</text>
<line x1="189.7" y1="44.3" x2="226.2" y2="44.3" stroke="#000" stroke-width="6" stroke-linecap="round"/>
<circle cx="207.7" cy="72.0" r="7.9" fill="none" stroke="#ff0000" stroke-width="2.2"/>
<text x="240" y="52.6" font-size="22" textLength="87.5" lengthAdjust="spacingAndGlyphs">Reference</text>
<text x="240" y="80.2" font-size="22" textLength="121" lengthAdjust="spacingAndGlyphs">field-reshaped</text>
<line x1="809" y1="41.3" x2="844.3" y2="41.3" stroke="#000" stroke-width="6" stroke-linecap="round"/>
<circle cx="826.8" cy="69.6" r="7.9" fill="none" stroke="#ff0000" stroke-width="2.2"/>
<text x="859.5" y="48.6" font-size="22" textLength="87.5" lengthAdjust="spacingAndGlyphs">Reference</text>
<text x="859.5" y="76.1" font-size="22" textLength="121" lengthAdjust="spacingAndGlyphs">field-reshaped</text>
<line x1="1429.8" y1="46.6" x2="1465.1" y2="46.6" stroke="#000" stroke-width="6" stroke-linecap="round"/>
<circle cx="1447.9" cy="74.5" r="7.9" fill="none" stroke="#ff0000" stroke-width="2.2"/>
<text x="1480.3" y="54.2" font-size="22" textLength="87.5" lengthAdjust="spacingAndGlyphs">Reference</text>
<text x="1480.3" y="81.8" font-size="22" textLength="121" lengthAdjust="spacingAndGlyphs">field-reshaped</text>
<line x1="183" y1="583.1" x2="219.5" y2="583.1" stroke="#000" stroke-width="6" stroke-linecap="round"/>
<line x1="183" y1="618.1" x2="219.5" y2="618.1" stroke="#ff0000" stroke-width="6" stroke-linecap="round"/>
<text y="590.9" font-size="22"><tspan x="233.2">primary</tspan><tspan x="310.9" font-size="25">&#945;</tspan><tspan x="324.5" font-size="15" dy="6.5">0</tspan></text>
<text y="625.2" font-size="22"><tspan x="233.2" font-size="25">&#945;</tspan><tspan x="246.79999999999998" font-size="15" dy="6.5">0</tspan><tspan x="261.0" dy="-6.5">+</tspan><tspan x="280.5">secondary</tspan><tspan x="378.2" font-size="25">&#945;</tspan><tspan x="391.9" font-size="15" dy="6.5">1</tspan></text>
<line x1="807.6" y1="584.6" x2="843.8" y2="584.6" stroke="#000" stroke-width="6" stroke-linecap="round"/>
<line x1="807.6" y1="619.3" x2="843.8" y2="619.3" stroke="#ff0000" stroke-width="6" stroke-linecap="round"/>
<text y="592.3" font-size="22"><tspan x="858.2">primary</tspan><tspan x="935.9000000000001" font-size="25">&#945;</tspan><tspan x="949.5" font-size="15" dy="6.5">0</tspan></text>
<text y="627.2" font-size="22"><tspan x="858.2" font-size="25">&#945;</tspan><tspan x="871.8000000000001" font-size="15" dy="6.5">0</tspan><tspan x="886.0" dy="-6.5">+</tspan><tspan x="905.5">secondary</tspan><tspan x="1003.2" font-size="25">&#945;</tspan><tspan x="1016.9000000000001" font-size="15" dy="6.5">1</tspan></text>
<line x1="1426.7" y1="583.5" x2="1463.8" y2="583.5" stroke="#000" stroke-width="6" stroke-linecap="round"/>
<line x1="1426.7" y1="618" x2="1463.8" y2="618" stroke="#ff0000" stroke-width="6" stroke-linecap="round"/>
<text y="591.7" font-size="22"><tspan x="1477.4">primary</tspan><tspan x="1555.1000000000001" font-size="25">&#945;</tspan><tspan x="1568.7" font-size="15" dy="6.5">0</tspan></text>
<text y="625.9" font-size="22"><tspan x="1477.4" font-size="25">&#945;</tspan><tspan x="1491.0" font-size="15" dy="6.5">0</tspan><tspan x="1505.2" dy="-6.5">+</tspan><tspan x="1524.7">secondary</tspan><tspan x="1622.4" font-size="25">&#945;</tspan><tspan x="1636.1000000000001" font-size="15" dy="6.5">1</tspan></text>
</svg></body></html>
